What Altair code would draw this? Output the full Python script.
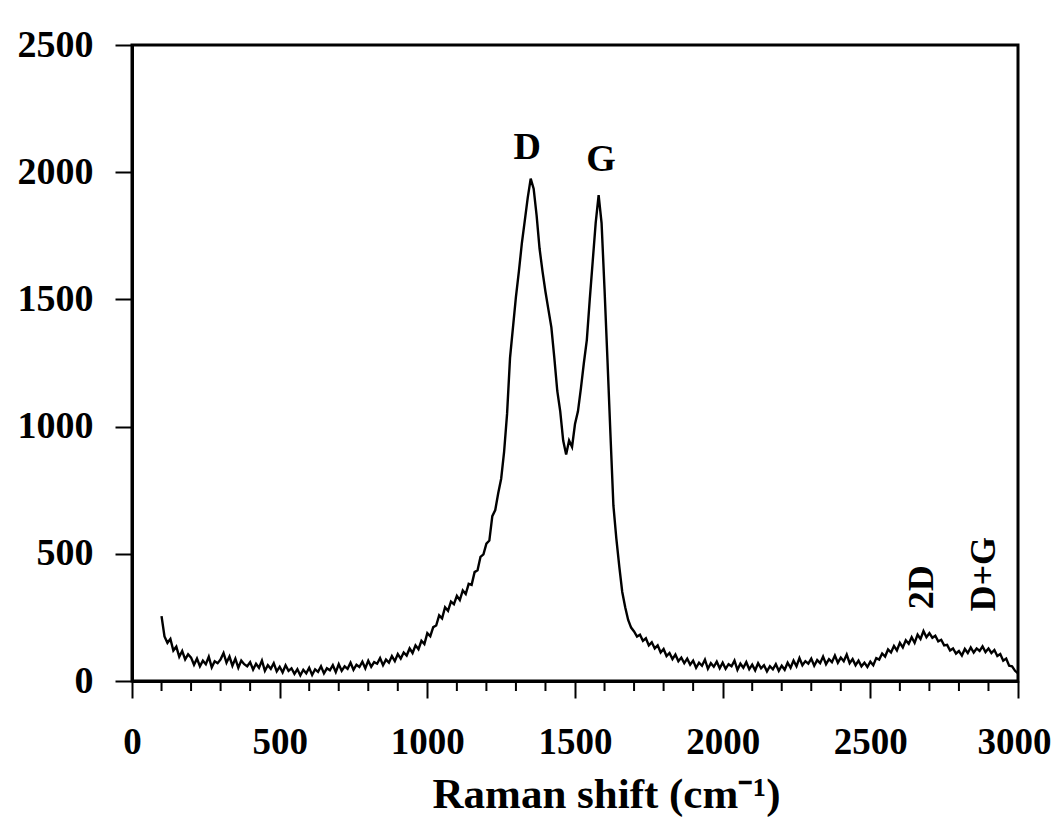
import altair as alt
import pandas as pd

# Raman shift (cm^-1), sampled every 10 from 100 to 3000
shift = list(range(100, 3001, 10))

intensity = [
    # 100-190
    255, 175, 150, 165, 120, 135, 95, 118, 85, 105,
    # 200-290
    92, 64, 88, 58, 80, 66, 95, 54, 78, 70,
    # 300-390
    85, 110, 72, 96, 60, 88, 52, 80, 66, 58,
    # 400-490
    74, 45, 68, 52, 80, 40, 62, 48, 70, 38,
    # 500-590
    56, 34, 62, 40, 50, 28, 46, 22, 44, 30,
    # 600-690
    52, 24, 46, 36, 58, 30, 50, 42, 62, 35,
    # 700-790
    66, 40, 58, 48, 72, 44, 64, 55, 76, 50,
    # 800-890
    80, 56, 74, 68, 90, 62, 84, 72, 98, 78,
    # 900-990
    106, 88, 112, 100, 128, 110, 140, 125, 158, 145,
    # 1000-1090
    188, 176, 212, 218, 258, 246, 290, 276, 312, 302,
    # 1100-1190
    335, 318, 356, 342, 382, 378, 428, 435, 488, 498,
    # 1200-1290
    540, 552, 648, 672, 738, 795, 902, 1050, 1270, 1390,
    # 1300-1390
    1510, 1610, 1720, 1810, 1900, 1975, 1935, 1830, 1700, 1610,
    # 1400-1490
    1530, 1460, 1390, 1270, 1140, 1060, 945, 890, 945, 920,
    # 1500-1590
    1010, 1060, 1150, 1250, 1340, 1500, 1650, 1800, 1910, 1800,
    # 1600-1690
    1540, 1260, 970, 690, 560, 450, 350, 290, 240, 210,
    # 1700-1790
    195, 175, 182, 158, 168, 140, 152, 128, 140, 112,
    # 1800-1890
    126, 98, 110, 86, 104, 78, 92, 70, 88, 64,
    # 1900-1990
    80, 52, 72, 60, 84, 48, 70, 56, 76, 50,
    # 2000-2090
    72, 48, 66, 58, 80, 44, 68, 52, 74, 46,
    # 2100-2190
    64, 42, 70, 50, 62, 38, 58, 46, 66, 40,
    # 2200-2290
    60, 44, 72, 52, 80, 58, 90, 62, 78, 68,
    # 2300-2390
    88, 60, 82, 70, 96, 66, 86, 74, 100, 72,
    # 2400-2490
    92, 78, 104, 70, 86, 62, 80, 58, 72, 55,
    # 2500-2590
    76, 62, 90, 84, 108, 96, 124, 112, 138, 120,
    # 2600-2690
    150, 132, 160, 146, 172, 150, 182, 165, 196, 172,
    # 2700-2790
    188, 170, 178, 156, 162, 140, 142, 120, 128, 108,
    # 2800-2890
    118, 100, 126, 110, 132, 112, 128, 118, 136, 114,
    # 2900-2990
    128, 110, 122, 98, 106, 80, 88, 60, 58, 40,
    # 3000
    30,
]

# Peak labels
peak_labels = ["D", "G"]
peak_x = [1338, 1588]
peak_y = [2095, 2048]

band_labels = ["2D", "D+G"]
band_x = [2675, 2885]
band_y = [369, 420]

x_major = [0, 500, 1000, 1500, 2000, 2500, 3000]
x_minor = [v for v in range(100, 3000, 100) if v % 500 != 0]
y_ticks = [0, 500, 1000, 1500, 2000, 2500]

df = pd.DataFrame({"shift": shift, "intensity": intensity})
peaks = pd.DataFrame({"label": peak_labels, "x": peak_x, "y": peak_y})
bands = pd.DataFrame({"label": band_labels, "x": band_x, "y": band_y})
minor = pd.DataFrame({"tick": x_minor})

FONT = "Liberation Serif"
W, H = 886, 636

x_scale = alt.Scale(domain=[0, 3000], nice=False, zero=False)

x_enc = alt.X(
    "shift:Q",
    scale=x_scale,
    axis=alt.Axis(
        values=x_major,
        format="d",
        title="Raman shift (cm⁻¹)",
        titleFont=FONT,
        titleFontSize=43,
        titleFontWeight="bold",
        titleColor="black",
        titlePadding=13,
        titleX=474,
        titleAlign="center",
        labelFont=FONT,
        labelFontSize=37,
        labelFontWeight="bold",
        labelColor="black",
        labelPadding=26,
        labelFlush=False,
        labelOverlap=False,
        labelOffset={"condition": {"test": "datum.value === 3000", "value": -4}, "value": 0},
        tickSize=17,
        tickColor="black",
        tickWidth=2,
        domainColor="black",
        domainWidth=3,
        grid=False,
    ),
)

y_enc = alt.Y(
    "intensity:Q",
    scale=alt.Scale(domain=[0, 2500], nice=False),
    axis=alt.Axis(
        values=y_ticks,
        format="d",
        title=None,
        labelFont=FONT,
        labelFontSize=38,
        labelFontWeight="bold",
        labelColor="black",
        labelPadding=22,
        labelOverlap=False,
        tickSize=17,
        tickColor="black",
        tickWidth=2,
        domainColor="black",
        domainWidth=3,
        grid=False,
    ),
)

line = alt.Chart(df).mark_line(color="black", strokeWidth=2.4).encode(x=x_enc, y=y_enc)

minor_ticks = alt.Chart(minor).mark_rule(color="black", strokeWidth=2).encode(
    x=alt.X("tick:Q", scale=x_scale),
    y=alt.value(H),
    y2=alt.value(H + 10),
)

peak_text = alt.Chart(peaks).mark_text(
    font=FONT, fontSize=38, fontWeight="bold", color="black", baseline="middle", align="center"
).encode(x="x:Q", y="y:Q", text="label:N")

band_text = alt.Chart(bands).mark_text(
    font=FONT, fontSize=36, fontWeight="bold", color="black", baseline="middle", align="center", angle=270
).encode(x="x:Q", y="y:Q", text="label:N")

chart = (
    alt.layer(line, minor_ticks, peak_text, band_text)
    .properties(
        width=W,
        height=H,
        autosize=alt.AutoSizeParams(type="none"),
        padding={"left": 124, "top": 37, "right": 33, "bottom": 138},
        background="white",
    )
    .configure_view(stroke="black", strokeWidth=3)
)

chart.save("out.html", embed_options={"renderer": "svg", "actions": False})
